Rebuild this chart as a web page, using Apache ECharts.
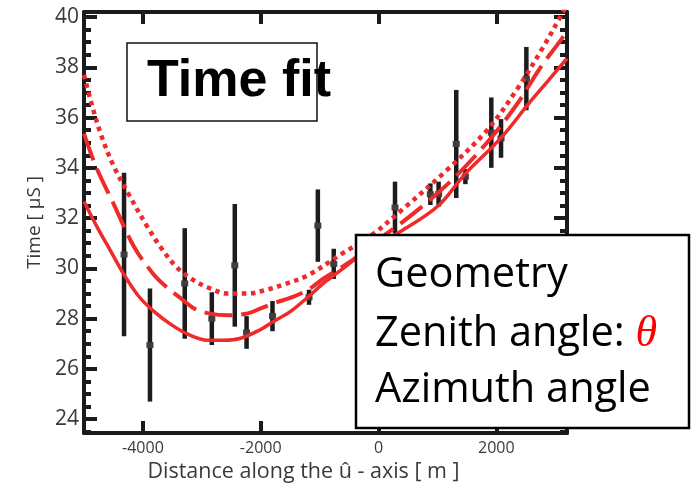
<!DOCTYPE html>
<html>
<head>
<meta charset="utf-8">
<script src="https://cdn.jsdelivr.net/npm/echarts@6/dist/echarts.min.js"></script>
<style>
  html, body { margin: 0; padding: 0; background: #ffffff; }
  #chart { width: 696px; height: 491px; }
</style>
</head>
<body>
<div id="chart"></div>
<script>
// Axis ticks and labels
const xTicks = [-4000, -2000, 0, 2000];
const yTicks = [24, 26, 28, 30, 32, 34, 36, 38, 40];
const yMinorTicks = [23.5, 24.5, 25, 25.5, 26.5, 27, 27.5, 28.5, 29, 29.5, 30.5, 31, 31.5,
  32.5, 33, 33.5, 34.5, 35, 35.5, 36.5, 37, 37.5, 38.5, 39, 39.5];

// Measured arrival times with their uncertainties
const obsDistance = [-4320, -3880, -3290, -2830, -2440, -2240, -1800, -1180, -1030, -760,
  280, 880, 1020, 1320, 1475, 1915, 2080, 2510];
const obsTime = [30.55, 26.95, 29.4, 28.0, 30.12, 27.45, 28.1, 28.85, 31.7, 30.18,
  32.42, 32.95, 32.95, 34.95, 33.65, 35.4, 35.17, 37.55];
const obsError = [3.25, 2.25, 2.2, 1.05, 2.44, 0.65, 0.6, 0.3, 1.44, 0.6,
  1.03, 0.43, 0.5, 2.15, 0.3, 1.4, 0.77, 1.26];

// Fitted curves for three zenith angles
const fitSolidX = [-5000, -4763, -4542, -4322, -4068, -3814, -3525, -3237, -2898, -2627, -2339,
  -2000, -1780, -1492, -1186, -898, -644, -356, 322, 1000, 1475, 2068, 2576, 2864, 3200];
const fitSolidY = [32.66, 31.58, 30.67, 29.76, 28.88, 28.29, 27.77, 27.38, 27.14, 27.14, 27.22,
  27.57, 27.89, 28.29, 28.88, 29.48, 29.92, 30.43, 31.39, 32.46, 33.77, 35.16, 36.63, 37.42, 38.35];

const fitDashX = [-5000, -4797, -4492, -4153, -3831, -3610, -3356, -3136, -2881, -2559, -2220,
  -2000, -1780, -1441, -1186, -932, -644, -424, 119, 373, 881, 1390, 1898, 2356, 2746, 3085, 3200];
const fitDashY = [35.36, 34.05, 32.54, 30.87, 29.8, 29.28, 28.81, 28.41, 28.21, 28.13, 28.21,
  28.41, 28.61, 28.88, 29.16, 29.6, 30.02, 30.36, 31.35, 31.78, 32.74, 33.85, 35.16, 36.55, 37.98, 39.05, 39.45];

const fitDotX = [-5000, -4881, -4712, -4492, -4237, -3915, -3695, -3441, -3186, -2898, -2559,
  -2220, -1881, -1610, -1203, -644, -102, 424, 1169, 1847, 2356, 2797, 3085, 3200];
const fitDotY = [37.7, 36.63, 35.32, 34.05, 32.93, 31.62, 30.83, 30.08, 29.6, 29.24, 29.0,
  29.0, 29.16, 29.36, 29.72, 30.55, 31.35, 32.38, 33.93, 35.51, 37.14, 38.81, 40.0, 40.5];

const pairs = (xs, ys) => xs.map((x, i) => [x, ys[i]]);
const obsRows = obsDistance.map((x, i) => [x, obsTime[i], obsError[i]]);

const AXIS_COLOR = '#1b1b1b';
const LABEL_COLOR = '#3a3a3a';
const FIT_COLOR = '#ee2a2a';
const FONT = '"Open Sans", sans-serif';

const chart = echarts.init(document.getElementById('chart'), null, { renderer: 'canvas' });

const lineAxis = { show: true, onZero: false, lineStyle: { color: AXIS_COLOR, width: 4 } };
const noLine = { show: false, onZero: false };
const yRange = { min: 23.45, max: 40.2 };
const xRange = { min: -5000, max: 3200 };
const plain = v => String(v);

function yTickAxis(position, values, len, withLine, withLabels) {
  return Object.assign({
    type: 'value',
    position: position,
    axisLine: withLine ? lineAxis : noLine,
    axisTick: { show: true, inside: true, length: len, customValues: values,
      lineStyle: { color: AXIS_COLOR, width: 4 } },
    axisLabel: withLabels
      ? { show: true, customValues: yTicks, formatter: plain, fontSize: 21,
          color: LABEL_COLOR, fontFamily: FONT, margin: 5 }
      : { show: false },
    splitLine: { show: false }
  }, yRange);
}

const option = {
  backgroundColor: '#ffffff',
  animation: false,
  grid: { left: 84, top: 12, width: 483, height: 421 },
  xAxis: [
    Object.assign({
      type: 'value',
      position: 'bottom',
      axisLine: lineAxis,
      axisTick: { show: true, inside: true, length: 12, customValues: xTicks,
        lineStyle: { color: AXIS_COLOR, width: 4 } },
      axisLabel: { customValues: xTicks, formatter: plain, fontSize: 16,
        color: LABEL_COLOR, fontFamily: FONT, margin: 7 },
      splitLine: { show: false },
      name: 'Distance along the û - axis [ m ]',
      nameLocation: 'middle',
      nameGap: 28,
      nameTextStyle: { fontSize: 21.5, color: LABEL_COLOR, fontFamily: FONT,
        padding: [0, 44, 0, 0] }
    }, xRange),
    Object.assign({
      type: 'value',
      position: 'top',
      axisLine: lineAxis,
      axisTick: { show: true, inside: true, length: 12, customValues: xTicks,
        lineStyle: { color: AXIS_COLOR, width: 4 } },
      axisLabel: { show: false },
      splitLine: { show: false }
    }, xRange)
  ],
  yAxis: [
    Object.assign(yTickAxis('left', yTicks, 13, true, true), {
      name: 'Time [ µS ]',
      nameLocation: 'middle',
      nameGap: 40,
      nameRotate: 90,
      nameTextStyle: { fontSize: 19, color: LABEL_COLOR, fontFamily: FONT }
    }),
    yTickAxis('left', yMinorTicks, 7, false, false),
    yTickAxis('right', yTicks, 13, true, false),
    yTickAxis('right', yMinorTicks, 7, false, false)
  ],
  series: [
    {
      name: 'observed',
      type: 'custom',
      xAxisIndex: 0,
      yAxisIndex: 0,
      z: 2,
      encode: { x: 0, y: 1 },
      data: obsRows,
      renderItem: function (params, api) {
        const x = api.value(0), y = api.value(1), e = api.value(2);
        const top = api.coord([x, y + e]);
        const bot = api.coord([x, y - e]);
        const mid = api.coord([x, y]);
        return {
          type: 'group',
          children: [
            { type: 'line', shape: { x1: top[0], y1: top[1], x2: bot[0], y2: bot[1] },
              style: { stroke: '#1c1c1c', lineWidth: 4.5 } },
            { type: 'rect', shape: { x: mid[0] - 3.5, y: mid[1] - 3, width: 7, height: 6 },
              style: { fill: '#3e3e3e' } }
          ]
        };
      }
    },
    {
      name: 'fit solid', type: 'line', z: 3, smooth: 0.35, showSymbol: false, clip: true,
      data: pairs(fitSolidX, fitSolidY),
      lineStyle: { color: FIT_COLOR, width: 3.5 }
    },
    {
      name: 'fit dashed', type: 'line', z: 3, smooth: 0.35, showSymbol: false, clip: true,
      data: pairs(fitDashX, fitDashY),
      lineStyle: { color: FIT_COLOR, width: 4, type: [28, 9], cap: 'butt' }
    },
    {
      name: 'fit dotted', type: 'line', z: 3, smooth: 0.35, showSymbol: false, clip: true,
      data: pairs(fitDotX, fitDotY),
      lineStyle: { color: FIT_COLOR, width: 4.5, type: [4.5, 4.5], cap: 'butt' }
    }
  ],
  graphic: [
    {
      type: 'rect', z: 100,
      shape: { x: 127, y: 43, width: 190, height: 78 },
      style: { fill: '#ffffff', stroke: '#111111', lineWidth: 1.5 }
    },
    {
      type: 'text', z: 101, x: 147, y: 82,
      style: { text: 'Time fit', font: 'bold 52px "Liberation Sans", Arial, sans-serif',
        fill: '#000000', verticalAlign: 'middle', align: 'left' }
    },
    {
      type: 'rect', z: 100,
      shape: { x: 356, y: 235, width: 333, height: 193 },
      style: { fill: '#ffffff', stroke: '#000000', lineWidth: 2.5 }
    },
    {
      type: 'text', z: 101, x: 375, y: 275,
      style: { text: 'Geometry', font: '41.5px "Open Sans", sans-serif', fill: '#000000',
        verticalAlign: 'middle' }
    },
    {
      type: 'text', z: 101, x: 375, y: 334,
      style: {
        text: '{a|Zenith angle: }{t|θ}',
        verticalAlign: 'middle',
        rich: {
          a: { fontFamily: '"Open Sans", sans-serif', fontSize: 41.5, fill: '#000000' },
          t: { fontFamily: '"Liberation Serif", serif', fontStyle: 'italic', fontSize: 44, fill: '#ff0000' }
        }
      }
    },
    {
      type: 'text', z: 101, x: 375, y: 390,
      style: { text: 'Azimuth angle', font: '41.5px "Open Sans", sans-serif', fill: '#000000',
        verticalAlign: 'middle' }
    }
  ]
};

chart.setOption(option);
</script>
</body>
</html>
